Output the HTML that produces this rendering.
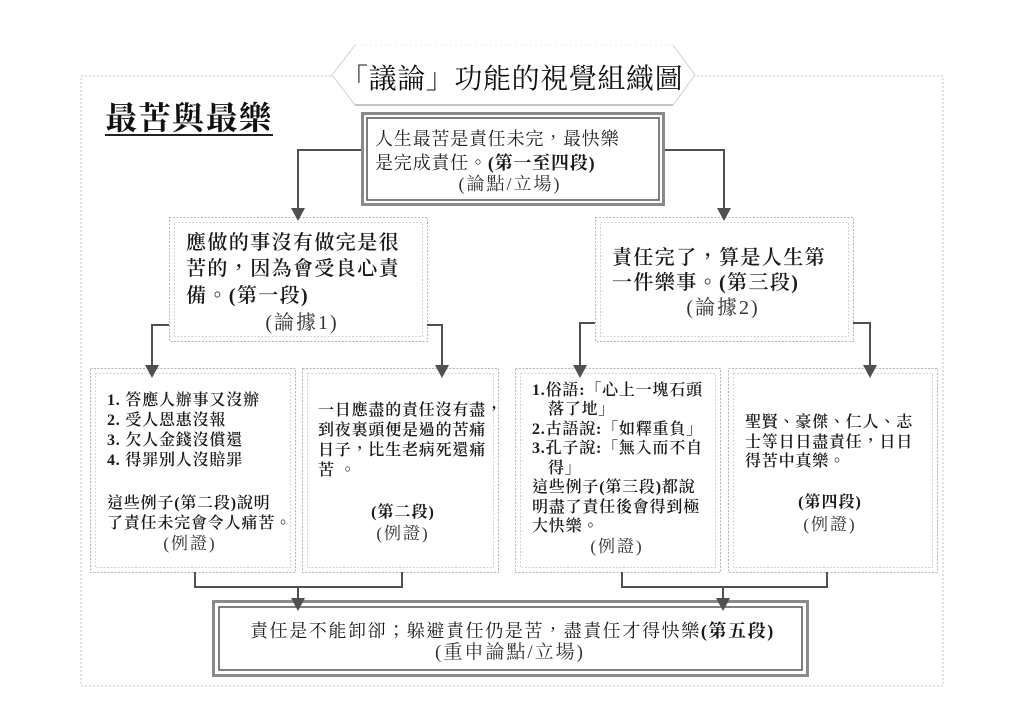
<!DOCTYPE html>
<html><head><meta charset="utf-8">
<style>
html,body{margin:0;padding:0;background:#fff;}
body{width:1024px;height:725px;position:relative;overflow:hidden;font-family:"Liberation Serif","Noto Serif CJK TC","Noto Serif CJK SC",serif;color:#1a1a1a;}
.t{position:absolute;white-space:nowrap;line-height:1;}
.title{font-size:28px;letter-spacing:0.6px;color:#111;}
.sub{font-size:32px;letter-spacing:1.5px;font-weight:700;color:#111;}
.tb{font-size:18px;letter-spacing:0.8px;}
.m{font-size:20px;letter-spacing:1.4px;font-weight:600;}
.a{font-size:16px;letter-spacing:0.8px;font-weight:600;}
.lb{font-size:19px;letter-spacing:2px;color:#333;text-align:center;}
.ls{font-size:17px;letter-spacing:2px;color:#333;text-align:center;}
.bb{font-size:16px;letter-spacing:1px;font-weight:700;text-align:center;}
.bt{font-size:18px;letter-spacing:1.6px;}
</style></head><body>
<svg width="1024" height="725" style="position:absolute;left:0;top:0" xmlns="http://www.w3.org/2000/svg">
  <!-- outer page frame -->
  <rect x="81" y="76" width="862" height="610" fill="none" stroke="#c4c4c4" stroke-width="1" stroke-dasharray="2 2"/>
  <!-- title hexagon -->
  <polygon points="332,75 355,45 673,45 695,75 673,105 355,105" fill="#fff" stroke="none"/>
  <polyline points="355,45 332,75 355,105" fill="none" stroke="#cfcfcf" stroke-width="1"/>
  <polyline points="673,45 695,75 673,105" fill="none" stroke="#cfcfcf" stroke-width="1"/>
  <line x1="355" y1="45" x2="673" y2="45" stroke="#ececec" stroke-width="1" stroke-dasharray="2 3"/>
  <line x1="355" y1="105" x2="673" y2="105" stroke="#b0b0b0" stroke-width="1.5"/>

  <!-- top box double border -->
  <rect x="362.5" y="113.5" width="301" height="91" fill="#fff" stroke="#8a8a8a" stroke-width="3"/>
  <rect x="367" y="118" width="292" height="82" fill="none" stroke="#555" stroke-width="1.5"/>

  <!-- mid boxes dotted double frames -->
  <rect x="169.5" y="217.5" width="258" height="124" fill="none" stroke="#b5b5b5" stroke-width="1" stroke-dasharray="2 1.5"/>
  <rect x="174.5" y="222.5" width="248" height="114" fill="none" stroke="#d2d2d2" stroke-width="1" stroke-dasharray="2 1.5"/>
  <rect x="595.5" y="217.5" width="258" height="124" fill="none" stroke="#b5b5b5" stroke-width="1" stroke-dasharray="2 1.5"/>
  <rect x="600.5" y="222.5" width="248" height="114" fill="none" stroke="#d2d2d2" stroke-width="1" stroke-dasharray="2 1.5"/>

  <!-- lower boxes -->
  <rect x="90.5" y="368.5" width="205" height="204" fill="none" stroke="#b5b5b5" stroke-width="1" stroke-dasharray="2 1.5"/>
  <rect x="95.5" y="373.5" width="195" height="194" fill="none" stroke="#d2d2d2" stroke-width="1" stroke-dasharray="2 1.5"/>
  <rect x="302.5" y="368.5" width="196" height="204" fill="none" stroke="#b5b5b5" stroke-width="1" stroke-dasharray="2 1.5"/>
  <rect x="307.5" y="373.5" width="186" height="194" fill="none" stroke="#d2d2d2" stroke-width="1" stroke-dasharray="2 1.5"/>
  <rect x="515.5" y="368.5" width="205" height="204" fill="none" stroke="#b5b5b5" stroke-width="1" stroke-dasharray="2 1.5"/>
  <rect x="520.5" y="373.5" width="195" height="194" fill="none" stroke="#d2d2d2" stroke-width="1" stroke-dasharray="2 1.5"/>
  <rect x="728.5" y="368.5" width="209" height="204" fill="none" stroke="#b5b5b5" stroke-width="1" stroke-dasharray="2 1.5"/>
  <rect x="733.5" y="373.5" width="199" height="194" fill="none" stroke="#d2d2d2" stroke-width="1" stroke-dasharray="2 1.5"/>

  <!-- bottom box double border -->
  <rect x="213.5" y="601.5" width="594" height="74" fill="#fff" stroke="#8a8a8a" stroke-width="3"/>
  <rect x="219" y="607" width="583" height="63" fill="none" stroke="#555" stroke-width="1.5"/>

  <!-- connectors -->
  <g fill="none" stroke="#505050" stroke-width="2">
    <path d="M361 150 H298 V210"/>
    <path d="M665 150 H724 V210"/>
    <path d="M169 325 H152 V367"/>
    <path d="M427 325 H442 V367"/>
    <path d="M595 323 H580 V367"/>
    <path d="M853 323 H870 V367"/>
    <path d="M195 572 V587 H402 V572"/>
    <path d="M298 587 V600"/>
    <path d="M622 572 V587 H827 V572"/>
    <path d="M723 587 V600"/>
  </g>
  <!-- arrowheads -->
  <g fill="#505050">
    <polygon points="291,208 305,208 298,221"/>
    <polygon points="717,208 731,208 724,221"/>
    <polygon points="145,365 159,365 152,378"/>
    <polygon points="435,365 449,365 442,378"/>
    <polygon points="573,365 587,365 580,378"/>
    <polygon points="863,365 877,365 870,378"/>
    <polygon points="291,598 305,598 298,611"/>
    <polygon points="716,598 730,598 723,611"/>
  </g>
</svg>

<!-- title -->
<div class="t title" style="left:340px;top:66px;">「議論」功能的視覺組織圖</div>
<div class="t sub" style="left:105px;top:102px;">最苦與最樂</div>
<div style="position:absolute;left:105px;top:134px;width:168px;height:2px;background:#222;"></div>

<!-- top box -->
<div class="t tb" style="left:375px;top:130px;">人生最苦是責任未完，最快樂</div>
<div class="t tb" style="left:375px;top:154px;">是完成責任。<b>(第一至四段)</b></div>
<div class="t lb" style="left:410px;top:175px;width:200px;font-size:18px;">(論點/立場)</div>

<!-- mid left -->
<div class="t m" style="left:186px;top:233px;">應做的事沒有做完是很</div>
<div class="t m" style="left:186px;top:259px;">苦的，因為會受良心責</div>
<div class="t m" style="left:186px;top:286px;">備。(第一段)</div>
<div class="t lb" style="left:222px;top:313px;width:160px;font-size:20px;">(論據1)</div>

<!-- mid right -->
<div class="t m" style="left:612px;top:248px;">責任完了，算是人生第</div>
<div class="t m" style="left:612px;top:273px;">一件樂事。(第三段)</div>
<div class="t lb" style="left:643px;top:298px;width:160px;font-size:20px;">(論據2)</div>

<!-- box 1 -->
<div class="t a" style="left:107px;top:393px;">1. 答應人辦事又沒辦</div>
<div class="t a" style="left:107px;top:413px;">2. 受人恩惠沒報</div>
<div class="t a" style="left:107px;top:433px;">3. 欠人金錢沒償還</div>
<div class="t a" style="left:107px;top:453px;">4. 得罪別人沒賠罪</div>
<div class="t a" style="left:107px;top:496px;">這些例子(第二段)說明</div>
<div class="t a" style="left:107px;top:516px;">了責任未完會令人痛苦。</div>
<div class="t ls" style="left:130px;top:535px;width:120px;">(例證)</div>

<!-- box 2 -->
<div class="t a" style="left:318px;top:403px;">一日應盡的責任沒有盡，</div>
<div class="t a" style="left:318px;top:423px;">到夜裏頭便是過的苦痛</div>
<div class="t a" style="left:318px;top:443px;">日子，比生老病死還痛</div>
<div class="t a" style="left:318px;top:463px;">苦 。</div>
<div class="t bb" style="left:343px;top:505px;width:120px;">(第二段)</div>
<div class="t ls" style="left:343px;top:525px;width:120px;">(例證)</div>

<!-- box 3 -->
<div class="t a" style="left:532px;top:383px;">1.俗語:「心上一塊石頭</div>
<div class="t a" style="left:548px;top:402px;">落了地」</div>
<div class="t a" style="left:532px;top:422px;">2.古語說:「如釋重負」</div>
<div class="t a" style="left:532px;top:441px;">3.孔子說:「無入而不自</div>
<div class="t a" style="left:548px;top:461px;">得」</div>
<div class="t a" style="left:532px;top:480px;">這些例子(第三段)都說</div>
<div class="t a" style="left:532px;top:500px;">明盡了責任後會得到極</div>
<div class="t a" style="left:532px;top:519px;">大快樂。</div>
<div class="t ls" style="left:557px;top:538px;width:120px;">(例證)</div>

<!-- box 4 -->
<div class="t a" style="left:745px;top:415px;">聖賢、豪傑、仁人、志</div>
<div class="t a" style="left:745px;top:435px;">士等日日盡責任，日日</div>
<div class="t a" style="left:745px;top:454px;">得苦中真樂。</div>
<div class="t bb" style="left:770px;top:495px;width:120px;">(第四段)</div>
<div class="t ls" style="left:770px;top:516px;width:120px;">(例證)</div>

<!-- bottom box -->
<div class="t bt" style="left:250px;top:622px;">責任是不能卸卻；躲避責任仍是苦，盡責任才得快樂<b>(第五段)</b></div>
<div class="t lb" style="left:390px;top:643px;width:240px;font-size:19px;">(重申論點/立場)</div>
</body></html>
